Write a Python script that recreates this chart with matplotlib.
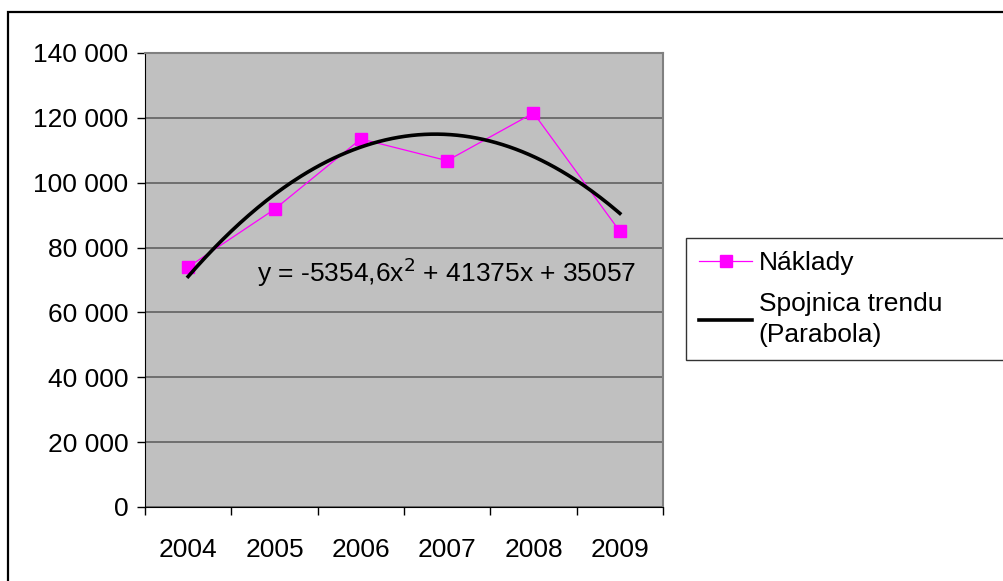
import matplotlib.pyplot as plt
import numpy as np
from matplotlib.patches import Rectangle

plt.rcParams['font.family'] = ['Liberation Sans', 'DejaVu Sans']

years = ['2004', '2005', '2006', '2007', '2008', '2009']
naklady = [74000, 91800, 113500, 106800, 121500, 85000]
trend_coef = [-5354.6, 41375, 35057]   # y = a x^2 + b x + c, x = 1..6
yticks = [0, 20000, 40000, 60000, 80000, 100000, 120000, 140000]
fs = 19

fig = plt.figure(figsize=(10.04, 5.81), dpi=100)
ax = fig.add_axes([145/1004, 1 - 507/581, 518/1004, 454/581])
ax.set_facecolor('#C0C0C0')

x = np.arange(len(years))
ax.plot(x, naklady, color='#FF00FF', lw=0.9, marker='s', ms=8,
        mec='#FF00FF', mfc='#FF00FF', label='Náklady', zorder=3)

xt = np.linspace(1, len(years), 200)
ax.plot(xt - 1, np.polyval(trend_coef, xt), color='black', lw=2.6,
        label='Spojnica trendu\n(Parabola)', zorder=4)

ax.text(0.8, 72500, r'y = -5354,6x$^{2}$ + 41375x + 35057', fontsize=fs,
        va='center', ha='left', zorder=5)

ax.set_xlim(-0.5, len(years) - 0.5)
ax.set_ylim(0, 140000)
ax.set_yticks(yticks)
ax.set_yticklabels([f'{v:,}'.replace(',', ' ') for v in yticks])
ax.yaxis.grid(True, color='#606060', lw=1.2)
ax.set_axisbelow(True)

ax.set_xticks(np.arange(-0.5, len(years)), minor=False)
ax.set_xticklabels([])
ax.set_xticks(x, minor=True)
ax.set_xticklabels(years, minor=True)
ax.tick_params(axis='x', which='major', length=6, width=1, color='black', direction='out')
ax.tick_params(axis='x', which='minor', length=0, pad=22, labelsize=fs)
ax.tick_params(axis='y', length=6, width=1, color='black', pad=6, labelsize=fs)

for s in ['top', 'right']:
    ax.spines[s].set_color('#808080')
    ax.spines[s].set_linewidth(1.5)
ax.spines['left'].set_color('black')
ax.spines['bottom'].set_color('black')

leg = ax.legend(loc='upper left', mode='expand',
                bbox_to_anchor=(686/1004, 1 - 362/581, 330/1004, 124/581),
                bbox_transform=fig.transFigure, fontsize=fs, frameon=True,
                fancybox=False, edgecolor='black', handlelength=2.0,
                handletextpad=0.25, borderpad=0.5, labelspacing=0.65,
                borderaxespad=0)
leg.get_frame().set_linewidth(1)
for t in leg.get_texts():
    t.set_linespacing(1.35)

fig.patches.append(Rectangle((8/1004, -0.1), 1.2, (581 - 12)/581 + 0.1,
                             transform=fig.transFigure, fill=False,
                             edgecolor='black', lw=1.6))

fig.savefig('out.png', dpi=100)
